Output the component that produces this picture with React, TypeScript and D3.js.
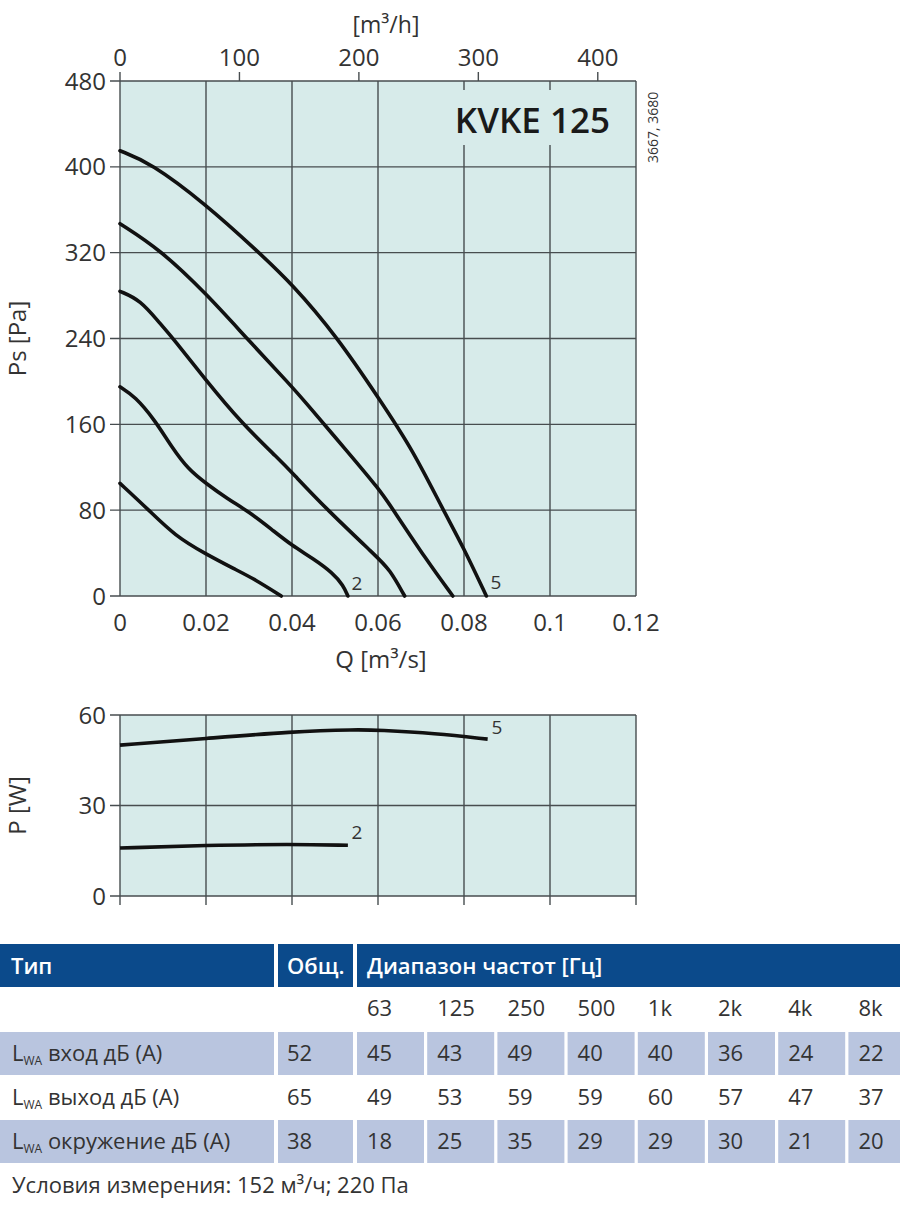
import * as d3 from 'd3';

// pressure curves, Q [m3/s] vs Ps [Pa], speeds 1..5
const psSpeed1 = [[0, 105], [0.0066, 80.5], [0.0128, 56], [0.02, 39], [0.0267, 25], [0.0314, 15.5], [0.0375, 0]];
const psSpeed2 = [[0, 195], [0.0035, 186], [0.0081, 164], [0.012, 139], [0.0159, 118], [0.02, 105], [0.0252, 90], [0.0298, 79], [0.0353, 62], [0.04, 47], [0.0449, 35], [0.0495, 21.5], [0.0519, 10], [0.053, 0]];
const psSpeed3 = [[0, 284], [0.0047, 276], [0.0093, 254], [0.0124, 240], [0.0198, 202], [0.0283, 161], [0.0371, 127], [0.04, 115], [0.048, 81], [0.0596, 37], [0.0627, 25], [0.0662, 0]];
const psSpeed4 = [[0, 347], [0.0093, 323], [0.02, 282], [0.0295, 240], [0.04, 195], [0.0426, 183], [0.0526, 136], [0.0604, 99], [0.0635, 80.5], [0.0712, 34], [0.0774, 0]];
const psSpeed5 = [[0, 415], [0.007, 404], [0.02, 365], [0.0318, 322], [0.04, 291], [0.0504, 242], [0.0604, 183], [0.0681, 136], [0.0751, 80.5], [0.0798, 46], [0.0852, 0]];

// power curves, Q [m3/s] vs P [W]
const powSpeed2 = [[0, 15.9], [0.02, 16.8], [0.04, 17.2], [0.053, 16.8]];
const powSpeed5 = [[0, 50], [0.02, 52.2], [0.04, 54.5], [0.0552, 55.2], [0.06, 55], [0.0733, 53.9], [0.0855, 52]];

const qTicks = [0, 0.02, 0.04, 0.06, 0.08, 0.1, 0.12];
const qhTicks = [0, 100, 200, 300, 400];
const psTicks = [0, 80, 160, 240, 320, 400, 480];
const pTicks = [0, 30, 60];

// sound table
const freqLabels = ['63', '125', '250', '500', '1k', '2k', '4k', '8k'];
const rowNames = ['вход дБ (A)', 'выход дБ (A)', 'окружение дБ (A)'];
const totals = [52, 65, 38];
const inlet = [45, 43, 49, 40, 40, 36, 24, 22];
const outlet = [49, 53, 59, 59, 60, 57, 47, 37];
const ambient = [18, 25, 35, 29, 29, 30, 21, 20];

const FONT = '"Open Sans", "Noto Sans", sans-serif';
const BG = '#d7ebea';
const GRID = '#474d4f';
const TXT = '#333';

export default function App() {
  const x = d3.scaleLinear().domain([0, 0.12]).range([120, 636]);
  const xh = d3.scaleLinear().domain([0, 0.12 * 3600]).range([120, 636]);
  const yPs = d3.scaleLinear().domain([0, 480]).range([596, 81]);
  const yP = d3.scaleLinear().domain([0, 60]).range([896, 715]);

  // basis spline smooths the hand-read points like the original drawing
  const linePs = d3.line<number[]>().x((d) => x(d[0])).y((d) => yPs(d[1])).curve(d3.curveBasis);
  const lineP = d3.line<number[]>().x((d) => x(d[0])).y((d) => yP(d[1])).curve(d3.curveBasis);

  const colX = d3.scaleLinear().domain([0, 1]).range([357, 427.2]);
  const rows = [inlet, outlet, ambient];
  const rowTop = [1032, 1076, 1120];

  return (
    <svg width={900} height={1218} style={{ position: 'absolute', left: 0, top: 0, background: '#fff' }} fontFamily={FONT}>
      {/* ---------- pressure chart ---------- */}
      <rect x={x(0)} y={yPs(480)} width={x(0.12) - x(0)} height={yPs(0) - yPs(480)} fill={BG} />
      {qTicks.map((t) => (
        <line key={'gv' + t} x1={x(t)} x2={x(t)} y1={yPs(0)} y2={yPs(480)} stroke={GRID} strokeWidth={1.4} />
      ))}
      {psTicks.map((t) => (
        <line key={'gh' + t} x1={x(0) - 10} x2={x(0.12)} y1={yPs(t)} y2={yPs(t)} stroke={GRID} strokeWidth={1.4} />
      ))}
      {qhTicks.map((t) => (
        <line key={'th' + t} x1={xh(t)} x2={xh(t)} y1={yPs(480) - 9} y2={yPs(480)} stroke={GRID} strokeWidth={1.4} />
      ))}
      {/* title box */}
      <rect x={442} y={90} width={186} height={55} fill={BG} />
      <text x={610} y={133} textAnchor="end" fontSize={35} fontWeight={600} fill="#1a1a1a">KVKE 125</text>
      <text transform="translate(658,163) rotate(-90)" fontSize={14} fill={TXT}>3667, 3680</text>

      {[psSpeed1, psSpeed2, psSpeed3, psSpeed4, psSpeed5].map((d, i) => (
        <path key={'ps' + i} d={linePs(d) as string} fill="none" stroke="#111" strokeWidth={3.6} strokeLinecap="round" />
      ))}
      <text x={357} y={590} textAnchor="middle" fontSize={19} fill={TXT}>2</text>
      <text x={496} y={589} textAnchor="middle" fontSize={19} fill={TXT}>5</text>

      {psTicks.map((t) => (
        <text key={'yl' + t} x={106} y={yPs(t)} dy="0.36em" textAnchor="end" fontSize={24} fill={TXT}>{t}</text>
      ))}
      {qTicks.map((t) => (
        <text key={'xl' + t} x={x(t)} y={631} textAnchor="middle" fontSize={24} fill={TXT}>{t === 0 ? '0' : String(t)}</text>
      ))}
      {qhTicks.map((t) => (
        <text key={'xh' + t} x={xh(t)} y={66} textAnchor="middle" fontSize={24} fill={TXT}>{t}</text>
      ))}
      <text x={386} y={33} textAnchor="middle" fontSize={23} fill={TXT}>[m³/h]</text>
      <text x={381} y={668} textAnchor="middle" fontSize={24} fill={TXT}>Q [m³/s]</text>
      <text transform={`translate(26,${(yPs(0) + yPs(480)) / 2}) rotate(-90)`} textAnchor="middle" fontSize={24} fill={TXT}>Ps [Pa]</text>

      {/* ---------- power chart ---------- */}
      <rect x={x(0)} y={yP(60)} width={x(0.12) - x(0)} height={yP(0) - yP(60)} fill={BG} />
      {qTicks.map((t) => (
        <line key={'pv' + t} x1={x(t)} x2={x(t)} y1={yP(0) + 9} y2={yP(60)} stroke={GRID} strokeWidth={1.4} />
      ))}
      {pTicks.map((t) => (
        <line key={'ph' + t} x1={x(0) - 10} x2={x(0.12)} y1={yP(t)} y2={yP(t)} stroke={GRID} strokeWidth={1.4} />
      ))}
      {[powSpeed2, powSpeed5].map((d, i) => (
        <path key={'pw' + i} d={lineP(d) as string} fill="none" stroke="#111" strokeWidth={3.6} strokeLinecap="butt" />
      ))}
      <text x={357} y={839} textAnchor="middle" fontSize={19} fill={TXT}>2</text>
      <text x={497} y={734} textAnchor="middle" fontSize={19} fill={TXT}>5</text>
      {pTicks.map((t) => (
        <text key={'pl' + t} x={106} y={yP(t)} dy="0.36em" textAnchor="end" fontSize={24} fill={TXT}>{t}</text>
      ))}
      <text transform={`translate(26,${(yP(0) + yP(60)) / 2}) rotate(-90)`} textAnchor="middle" fontSize={24} fill={TXT}>P [W]</text>

      {/* ---------- sound table ---------- */}
      <rect x={0} y={944} width={274} height={43} fill="#0b4a8b" />
      <rect x={278} y={944} width={75} height={43} fill="#0b4a8b" />
      <rect x={357} y={944} width={543} height={43} fill="#0b4a8b" />
      <text x={11} y={974} fontSize={22} fontWeight={600} fill="#fff">Тип</text>
      <text x={287} y={974} fontSize={22} fontWeight={600} fill="#fff">Общ.</text>
      <text x={367} y={974} fontSize={22} fontWeight={600} fill="#fff">Диапазон частот [Гц]</text>

      {freqLabels.map((f, i) => (
        <text key={'f' + f} x={colX(i) + 10} y={1016} fontSize={22} fill={TXT}>{f}</text>
      ))}

      {rows.map((vals, r) => {
        const shaded = r !== 1;
        const top = rowTop[r];
        const base = top + 29;
        return (
          <g key={'row' + r}>
            {shaded && (
              <>
                <rect x={0} y={top} width={274} height={43} fill="#b9c5df" />
                <rect x={278} y={top} width={75} height={43} fill="#b9c5df" />
                {vals.map((_, i) => (
                  <rect key={'c' + i} x={colX(i)} y={top} width={i === 7 ? 900 - colX(i) : 67} height={43} fill="#b9c5df" />
                ))}
              </>
            )}
            <text x={12} y={base} fontSize={22} fill={TXT}>
              L<tspan fontSize={12} dy={4}>WA</tspan><tspan dy={-4}> {rowNames[r]}</tspan>
            </text>
            <text x={287} y={base} fontSize={22} fill={TXT}>{totals[r]}</text>
            {vals.map((v, i) => (
              <text key={'v' + i} x={colX(i) + 10} y={base} fontSize={22} fill={TXT}>{v}</text>
            ))}
          </g>
        );
      })}
      <text x={12} y={1193} fontSize={22} fill={TXT}>Условия измерения: 152 м³/ч; 220 Па</text>
    </svg>
  );
}
